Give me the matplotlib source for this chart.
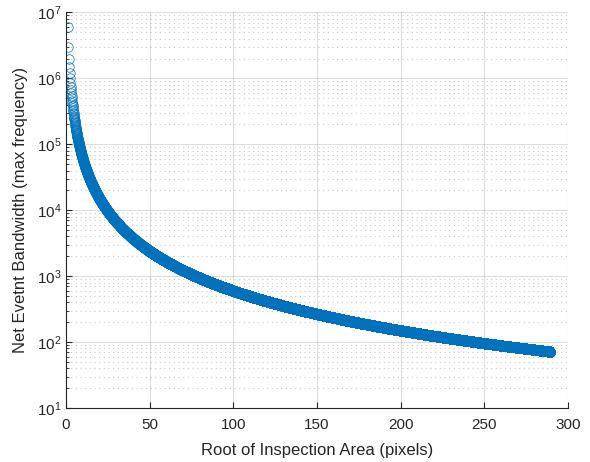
"""Event bandwidth vs. inspection window size"""

import numpy as np
import matplotlib.pyplot as plt
from matplotlib.ticker import LogLocator

# Peak event rate of the sensor (events/s) shared by the inspection area
MAX_EVENT_RATE = 6e6
# Inspection areas in pixels, from 1 px up to a 289 x 289 window
AREA_PX = np.arange(1, 289 ** 2 + 1)

ROOT_AREA = np.sqrt(AREA_PX)
BANDWIDTH = MAX_EVENT_RATE / AREA_PX

X_TICKS = [0, 50, 100, 150, 200, 250, 300]
Y_TICKS = [1e1, 1e2, 1e3, 1e4, 1e5, 1e6, 1e7]
RANGE_X = (0, 300)
RANGE_Y = (1e1, 1e7)

AX_COLOR = "#262626"
LINE_COLOR = "#0072BD"

plt.rcParams["font.family"] = ["Liberation Sans", "DejaVu Sans"]
plt.rcParams["mathtext.fontset"] = "custom"
plt.rcParams["mathtext.rm"] = "Liberation Sans"
plt.rcParams["mathtext.it"] = "Liberation Sans:italic"

fig = plt.figure(figsize=(5.9, 4.62), dpi=100)
ax = fig.add_axes([0.1119, 0.1169, 0.8508, 0.8561])

ax.semilogy(ROOT_AREA, BANDWIDTH, "o", markersize=6.8, markerfacecolor="none",
            markeredgecolor=LINE_COLOR, markeredgewidth=0.5)

ax.set_xlim(RANGE_X)
ax.set_ylim(RANGE_Y)
ax.set_xticks(X_TICKS)
ax.set_yticks(Y_TICKS)
ax.yaxis.set_minor_locator(LogLocator(base=10, subs=np.arange(2, 10), numticks=100))

# Grid: solid major lines, dotted minor lines on the log axis only
ax.grid(True, which="major", color=AX_COLOR, alpha=0.15, linewidth=0.8)
ax.grid(True, which="minor", axis="y", color=AX_COLOR, alpha=0.25,
        linewidth=0.8, linestyle=(0, (1, 3.2)))
ax.set_axisbelow(True)

for side in ["top", "right"]:
    ax.spines[side].set_visible(False)
for side in ["left", "bottom"]:
    ax.spines[side].set_color(AX_COLOR)
    ax.spines[side].set_linewidth(0.8)

ax.tick_params(which="both", direction="in", colors=AX_COLOR, labelsize=11,
               top=False, right=False)
ax.tick_params(which="major", length=4, width=0.8)
ax.tick_params(which="minor", length=2.5, width=0.6)
ax.tick_params(axis="x", which="major", pad=7)

ax.set_xlabel("Root of Inspection Area (pixels)", fontsize=12, color=AX_COLOR,
              labelpad=8)
ax.set_ylabel("Net Evetnt Bandwidth (max frequency)", fontsize=12,
              color=AX_COLOR, labelpad=6)

plt.savefig("out.png", dpi=100)
